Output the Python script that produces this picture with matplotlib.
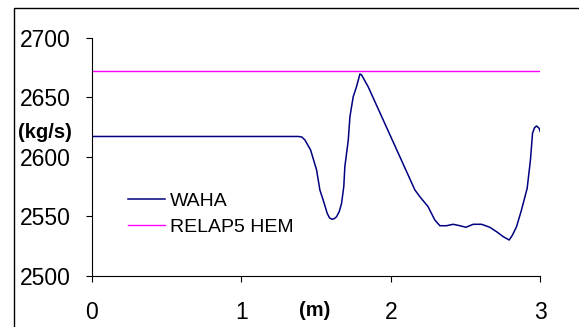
#!/usr/bin/env python3
"""Mass flow along the pipe: WAHA profile against the RELAP5 HEM level."""

import matplotlib

matplotlib.use("Agg")

import matplotlib.pyplot as plt
from matplotlib.patches import Rectangle

plt.rcParams["font.family"] = ["Liberation Sans", "DejaVu Sans"]

# WAHA mass flow profile, position (m) vs flow (kg/s)
waha_x = [
    0.0, 1.38, 1.405, 1.425, 1.463, 1.503, 1.525, 1.547, 1.574, 1.59, 1.607,
    1.622, 1.637, 1.655, 1.670, 1.685, 1.692, 1.715, 1.726, 1.748, 1.770,
    1.793, 1.804, 1.848, 1.949, 2.060, 2.161, 2.194, 2.249, 2.294, 2.328,
    2.372, 2.417, 2.462, 2.502, 2.551, 2.607, 2.662, 2.707, 2.752, 2.792,
    2.814, 2.841, 2.874, 2.912, 2.934, 2.948, 2.962, 2.975, 2.992, 3.0,
]
waha_flow = [
    2617, 2617, 2616.5, 2614, 2605.6, 2588.8, 2572, 2563.6, 2552.4, 2548.5,
    2547.4, 2548, 2549.6, 2554, 2560.8, 2575, 2591.6, 2614, 2633.6, 2650.4,
    2658.8, 2669.5, 2668.7, 2658.8, 2630.8, 2600, 2572, 2566.4, 2558, 2546.8,
    2542, 2542, 2543.2, 2542, 2540.7, 2543.2, 2543.2, 2540.7, 2537, 2532.8,
    2530, 2534.2, 2541.2, 2555.2, 2573.4, 2597.2, 2619.7, 2624.5, 2625.8,
    2623.9, 2621,
]

# RELAP5 HEM result is a constant level over the pipe
relap_x = [0.0, 3.0]
relap_flow = [2672, 2672]

x_ticks = [0, 1, 2, 3]
y_ticks = [2500, 2550, 2600, 2650, 2700]

W, H = 579, 327
fig = plt.figure(figsize=(W / 100, H / 100), dpi=100, facecolor="white")

# chart-area frame: only the left and top edges fall inside the image
fig.add_artist(Rectangle((14 / W, -0.05), 1.2, 1 - 8 / H + 0.05,
                         transform=fig.transFigure, fill=False,
                         edgecolor="black", linewidth=1.0))

ax = fig.add_axes([92 / W, 1 - 275.7 / H, (540.3 - 92) / W, (275.7 - 37.7) / H])
ax.plot(waha_x, waha_flow, color="#000080", linewidth=1.1, label="WAHA")
ax.plot(relap_x, relap_flow, color="#FF00FF", linewidth=1.0, label="RELAP5 HEM")

ax.set_xlim(0, 3)
ax.set_ylim(2500, 2700)
ax.set_xticks(x_ticks)
ax.set_yticks(y_ticks)
ax.tick_params(axis="both", direction="out", length=4.5, width=0.8,
               labelsize=16.5, color="black")
ax.tick_params(axis="x", pad=14)
ax.tick_params(axis="y", pad=11)

for side in ("top", "right"):
    ax.spines[side].set_visible(False)
for side in ("left", "bottom"):
    ax.spines[side].set_linewidth(0.8)

fig.text(45 / W, 1 - 133 / H, "(kg/s)", fontsize=14.5, fontweight="bold",
         ha="center", va="center")
fig.text(315 / W, 1 - 311 / H, "(m)", fontsize=14.5, fontweight="bold",
         ha="center", va="center")

ax.legend(loc="upper left", bbox_to_anchor=(0.08, 0.35), frameon=False,
          fontsize=14, handlelength=1.9, handletextpad=0.26, labelspacing=0.42,
          borderpad=0, borderaxespad=0)

fig.savefig("out.png", dpi=100, facecolor="white")
